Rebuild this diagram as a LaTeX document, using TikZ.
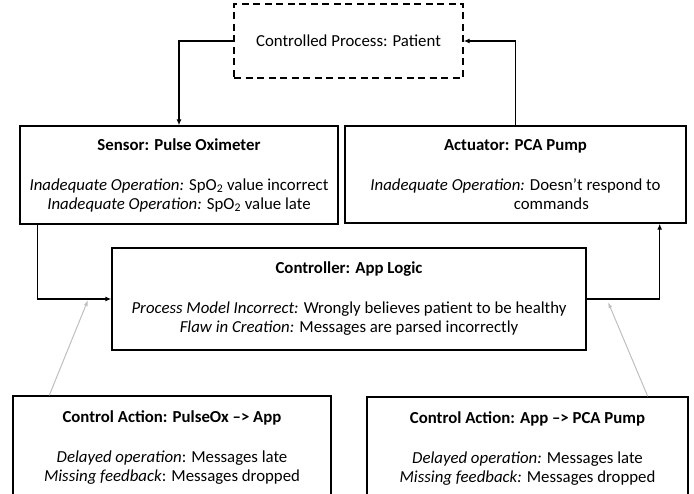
\documentclass[tikz,border=0pt]{standalone}
\usepackage{fontspec}
\setmainfont{Carlito}
\usepackage{tikz}
\usetikzlibrary{arrows.meta}
\tikzset{
  blk/.style={draw, line width=1.4pt, align=center, inner sep=0pt, font=\fontsize{16.8}{19}\selectfont},
  link/.style={line width=1.4pt, -{Latex[length=6pt,width=5pt]}},
  hint/.style={draw=black!25, line width=1pt, -{Latex[length=6pt,width=4pt]}}
}
\begin{document}
\begin{tikzpicture}[x=1pt,y=-1pt]
\useasboundingbox (0,0) rectangle (694,494);
\clip (0,0) rectangle (694,494);
\node[blk, dash pattern=on 7pt off 4.5pt, minimum width=229pt, minimum height=74pt] (patient) at (348.5,41) {Controlled Process: Patient};
\node[blk, minimum width=318pt, minimum height=98pt] (sensor) at (179,175)
  {\textbf{Sensor: Pulse Oximeter}\\[21pt]
   \textit{Inadequate Operation:} SpO\textsubscript{2} value incorrect\\
   \textit{Inadequate Operation:} SpO\textsubscript{2} value late};
\node[blk, minimum width=341pt, minimum height=97pt] (pump) at (515.5,174.5)
  {\textbf{Actuator: PCA Pump}\\[21pt]
   \textit{Inadequate Operation:} Doesn’t respond to\\
   \hfil commands\hfil};
\node[blk, minimum width=474pt, minimum height=102pt] (logic) at (349,299)
  {\textbf{Controller: App Logic}\\[21pt]
   \textit{Process Model Incorrect:} Wrongly believes patient to be healthy\\
   \textit{Flaw in Creation:} Messages are parsed incorrectly};
\node[blk, minimum width=318pt, minimum height=104pt] (caox) at (172,448)
  {\textbf{Control Action: PulseOx --> App}\\[21pt]
   \textit{Delayed operation}: Messages late\\
   \textit{Missing feedback}: Messages dropped};
\node[blk, minimum width=321pt, minimum height=104pt] (capump) at (527.5,449)
  {\textbf{Control Action: App --> PCA Pump}\\[21pt]
   \textit{Delayed operation:} Messages late\\
   \textit{Missing feedback:} Messages dropped};

\coordinate (oxout) at ([xshift=18pt]sensor.south west);
\coordinate (pumpin) at ([xshift=-27pt]pump.south east);
\coordinate (tipox) at (88,300);
\coordinate (tippump) at (608,302);

\draw[link] (patient.west) -| (sensor.north);
\draw[link] (pump.north) |- (patient.east);
\draw[link] (oxout) |- (logic.west);
\draw[link] (logic.east) -| (pumpin);
\draw[hint] ([xshift=37pt]caox.north west) -- (tipox);
\draw[hint] ([xshift=-41pt]capump.north east) -- (tippump);
\end{tikzpicture}
\end{document}
